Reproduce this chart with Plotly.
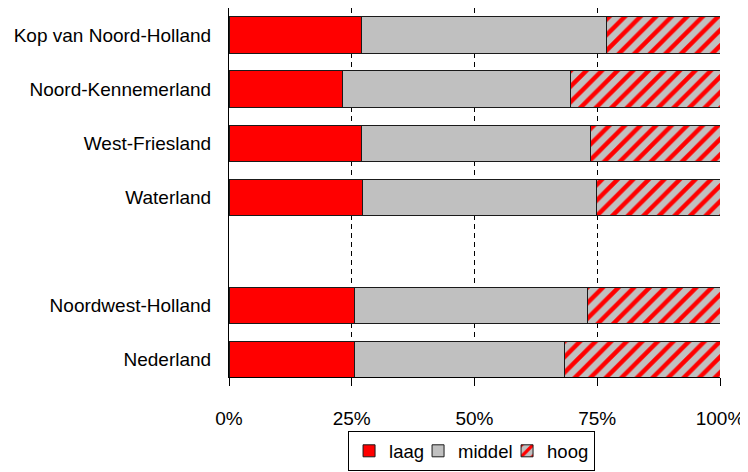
import plotly.graph_objects as go

categories = ["Kop van Noord-Holland", "Noord-Kennemerland", "West-Friesland", "Waterland",
              " ", "Noordwest-Holland", "Nederland"]
laag = [26.9, 23.1, 26.9, 27.2, None, 25.5, 25.5]
middel = [49.9, 46.5, 46.7, 47.7, None, 47.5, 42.8]
hoog = [23.2, 30.4, 26.4, 25.1, None, 27.0, 31.7]
tick_vals = [0, 25, 50, 75, 100]
tick_text = ["0%", "25%", "50%", "75%", "100%"]

FONT = "Liberation Sans, Arial, sans-serif"
line = dict(color="#1a1a1a", width=1)

fig = go.Figure()
fig.add_trace(go.Bar(y=categories, x=laag, name="laag", orientation="h", legendwidth=24,
                     marker=dict(color="#FF0000", line=line)))
fig.add_trace(go.Bar(y=categories, x=middel, name="middel", orientation="h", legendwidth=44,
                     marker=dict(color="#C0C0C0", line=line)))
fig.add_trace(go.Bar(y=categories, x=hoog, name="hoog", orientation="h",
                     marker=dict(color="#C0C0C0", line=line,
                                 pattern=dict(shape="/", fgcolor="#FF0000", bgcolor="#C0C0C0",
                                              fgopacity=1, size=11, solidity=0.4,
                                              fillmode="replace"))))

# page body has an 8px margin: figure is 740x464 placed at (8, 8)
fig.update_layout(
    barmode="stack",
    bargap=0.333,
    width=740, height=464,
    margin=dict(l=221, r=28, t=0, b=94.5, pad=0),
    paper_bgcolor="white", plot_bgcolor="white",
    font=dict(family=FONT, size=19, color="black"),
    legend=dict(orientation="h", x=0.494, xanchor="center", y=-0.2555, yanchor="bottom",
                bordercolor="black", borderwidth=1, font=dict(size=18.5),
                traceorder="normal", itemwidth=30, tracegroupgap=0, itemclick=False),
    xaxis=dict(range=[0, 100], tickvals=tick_vals, ticktext=tick_text,
               showgrid=True, gridcolor="black", griddash="5px,4px", gridwidth=1,
               showline=True, linecolor="black", linewidth=1,
               ticks="outside", ticklen=8, tickcolor="black", tickwidth=1,
               ticklabelstandoff=16, zeroline=False, fixedrange=True),
    yaxis=dict(categoryorder="array", categoryarray=categories[::-1],
               range=[-0.333, 6.5], showline=True, linecolor="black", linewidth=1,
               ticks="", showgrid=False, ticklabelstandoff=13, fixedrange=True),
)

fig.write_html("out.html")
